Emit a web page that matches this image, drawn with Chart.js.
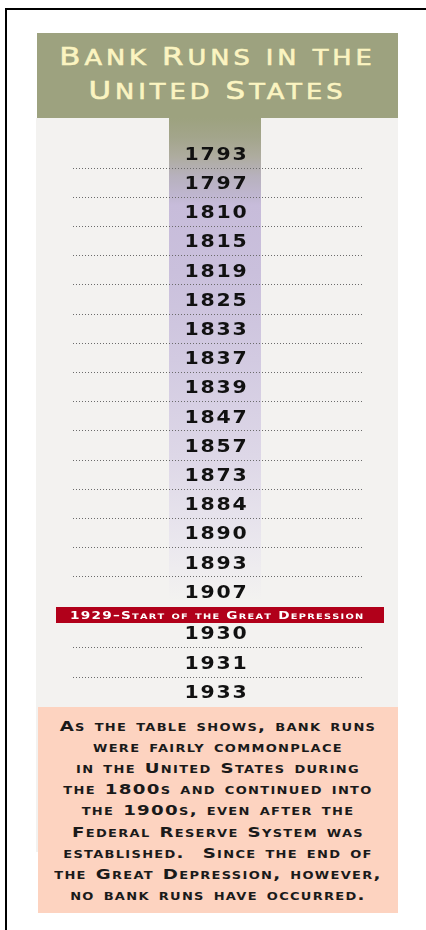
<!DOCTYPE html>
<html>
<head>
<meta charset="utf-8">
<title>Bank Runs in the United States</title>
<script src="https://cdn.jsdelivr.net/npm/chart.js@4.4.1/dist/chart.umd.min.js"></script>
<style>
  html, body { margin: 0; padding: 0; background: #fff; }
  body { position: relative; width: 426px; height: 930px; overflow: hidden; font-family: 'DejaVu Sans', sans-serif; }
  .frame { position: absolute; left: 5px; top: 8px; width: 470px; height: 960px; border-left: 2px solid #000; border-top: 2px solid #000; }
  .title { position: absolute; left: 37px; top: 33px; width: 361px; height: 85px; background: #9da27f; color: #fbf4c1; }
  .title .line { position: absolute; left: 0; width: 100%; text-align: center; font-size: 20.5px; line-height: 30px;
    text-transform: uppercase; letter-spacing: 3.2px; transform: scaleX(1.25); white-space: nowrap;
    -webkit-text-stroke: 0.6px #fbf4c1; }
  .title .cap { font-size: 24.7px; }
  .panel { position: absolute; left: 36px; top: 118px; width: 362px; height: 734px; background: #f3f2f0; }
  #chart { position: absolute; left: 36px; top: 118px; }
  .note { position: absolute; left: 38px; top: 707px; width: 360px; height: 206px; background: #fdd3c0; }
  .note .text { position: absolute; left: 0; top: 8.5px; width: 100%; text-align: center; color: #1a1a1a;
    font-weight: bold; font-size: 14px; line-height: 21.2px; font-variant: small-caps;
    letter-spacing: 1px; word-spacing: 1px; white-space: nowrap; transform: scaleX(1.3); }
</style>
</head>
<body>
<div class="frame"></div>
<div class="title">
  <div class="line" style="top:8.5px"><span class="cap">B</span>ank <span class="cap">R</span>uns in the</div>
  <div class="line" style="top:42.5px"><span class="cap">U</span>nited <span class="cap">S</span>tates</div>
</div>
<div class="panel"></div>
<canvas id="chart" width="362" height="589"></canvas>
<div class="note"><div class="text">As the table shows, bank runs<br>were fairly commonplace<br>in the United States during<br>the 1800s and continued into<br>the 1900s, even after the<br>Federal Reserve System was<br>established.&nbsp; Since the end of<br>the Great Depression, however,<br>no bank runs have occurred.</div></div>

<script>
// years with a bank run, top to bottom
const YEARS = [1793, 1797, 1810, 1815, 1819, 1825, 1833, 1837, 1839, 1847,
  1857, 1873, 1884, 1890, 1893, 1907, 1930, 1931, 1933];
const EVENT_YEAR = 1929;
const EVENT_LABEL = '1929–Start of the Great Depression';

// layout: extra room in the list around the 1929 banner (in rows)
const EVENT_GAP = 0.43;
const EVENT_OFFSET = 0.8;

const lastBefore = YEARS.filter((yr) => yr < EVENT_YEAR).length - 1;
const rowOf = (i) => i + (YEARS[i] > EVENT_YEAR ? EVENT_GAP : 0);
const eventRow = lastBefore + EVENT_OFFSET;

// dotted separators sit half way between neighbouring years
const separators = [];
for (let i = 0; i < YEARS.length - 1; i++) {
  if (YEARS[i] < EVENT_YEAR && YEARS[i + 1] > EVENT_YEAR) continue;
  separators.push((rowOf(i) + rowOf(i + 1)) / 2);
}

const FONT = '"DejaVu Sans", sans-serif';

// wide small caps, drawn glyph by glyph (canvas has no small-caps of its own)
function drawSmallCaps(ctx, text, cx, baseline, size, ratio, spacing, weight, stretch) {
  const parts = [...text].map((ch) => ({
    ch: ch.toUpperCase(),
    size: ch !== ch.toUpperCase() ? size * ratio : size,
  }));
  ctx.save();
  ctx.letterSpacing = '0px';
  ctx.textAlign = 'left';
  ctx.textBaseline = 'alphabetic';
  let total = 0;
  parts.forEach((p) => {
    ctx.font = `${weight} ${p.size}px ${FONT}`;
    p.w = ctx.measureText(p.ch).width;
    total += p.w + spacing;
  });
  total -= spacing;
  ctx.translate(cx, baseline);
  ctx.scale(stretch, 1);
  let x = -total / 2;
  parts.forEach((p) => {
    ctx.font = `${weight} ${p.size}px ${FONT}`;
    ctx.fillText(p.ch, x, 0);
    x += p.w + spacing;
  });
  ctx.restore();
}

const railPlugin = {
  id: 'rail',
  beforeDraw(chart) {
    const { ctx, scales: { y } } = chart;
    const bottom = y.getPixelForValue(rowOf(lastBefore) + 0.3);
    const g = ctx.createLinearGradient(0, 0, 0, bottom);
    g.addColorStop(0, '#9da27f');
    g.addColorStop(0.04, '#a3a58b');
    g.addColorStop(0.08, '#aeac9f');
    g.addColorStop(0.12, '#b7b1bd');
    g.addColorStop(0.16, '#bfb6cf');
    g.addColorStop(0.18, '#c7bcda');
    g.addColorStop(0.32, '#cac0dc');
    g.addColorStop(0.5, '#d2cae1');
    g.addColorStop(0.7, '#ddd7e7');
    g.addColorStop(0.88, '#eae7ee');
    g.addColorStop(1, '#f3f2f0');
    ctx.save();
    ctx.fillStyle = g;
    ctx.fillRect(133, 0, 92, bottom);
    ctx.restore();
  },
  afterDraw(chart) {
    const { ctx, scales: { y } } = chart;
    const meta = chart.getDatasetMeta(0);
    ctx.save();
    ctx.fillStyle = '#111';
    ctx.font = `bold 17px ${FONT}`;
    ctx.letterSpacing = '1.5px';
    ctx.textAlign = 'center';
    ctx.textBaseline = 'alphabetic';
    meta.data.forEach((pt, i) => {
      ctx.save();
      ctx.translate(pt.x + 0.8, pt.y + 6.2);
      ctx.scale(1.2, 1);
      ctx.fillText(String(YEARS[i]), 0, 0);
      ctx.restore();
    });

    // 1929 banner
    const ey = y.getPixelForValue(eventRow);
    ctx.fillStyle = '#b1001a';
    ctx.fillRect(20, Math.round(ey - 8), 328, 16);
    ctx.fillStyle = '#fff';
    drawSmallCaps(ctx, EVENT_LABEL, meta.data[0].x + 1, ey + 3.9, 10.5, 0.72, 0.95, 'bold', 1.3);
    ctx.restore();
  },
};

new Chart(document.getElementById('chart'), {
  type: 'scatter',
  data: {
    datasets: [{
      label: 'Bank runs',
      data: YEARS.map((yr, i) => ({ x: 0.49, y: rowOf(i) })),
      pointRadius: 0,
      pointHoverRadius: 0,
      showLine: false,
    }],
  },
  options: {
    responsive: false,
    animation: false,
    events: [],
    layout: { padding: { left: 37, right: 34, top: 0, bottom: 0 } },
    plugins: {
      legend: { display: false },
      title: { display: false },
      tooltip: { enabled: false },
    },
    scales: {
      x: { type: 'linear', min: 0, max: 1, display: false },
      y: {
        type: 'linear',
        reverse: true,
        min: -1.216,
        max: 18.955,
        afterBuildTicks: (scale) => {
          scale.ticks = separators.map((v) => ({ value: v }));
        },
        ticks: { display: false },
        grid: { color: '#6b6b6b', lineWidth: 1, drawTicks: false },
        border: { display: false, dash: [1, 2] },
      },
    },
  },
  plugins: [railPlugin],
});
</script>
</body>
</html>
